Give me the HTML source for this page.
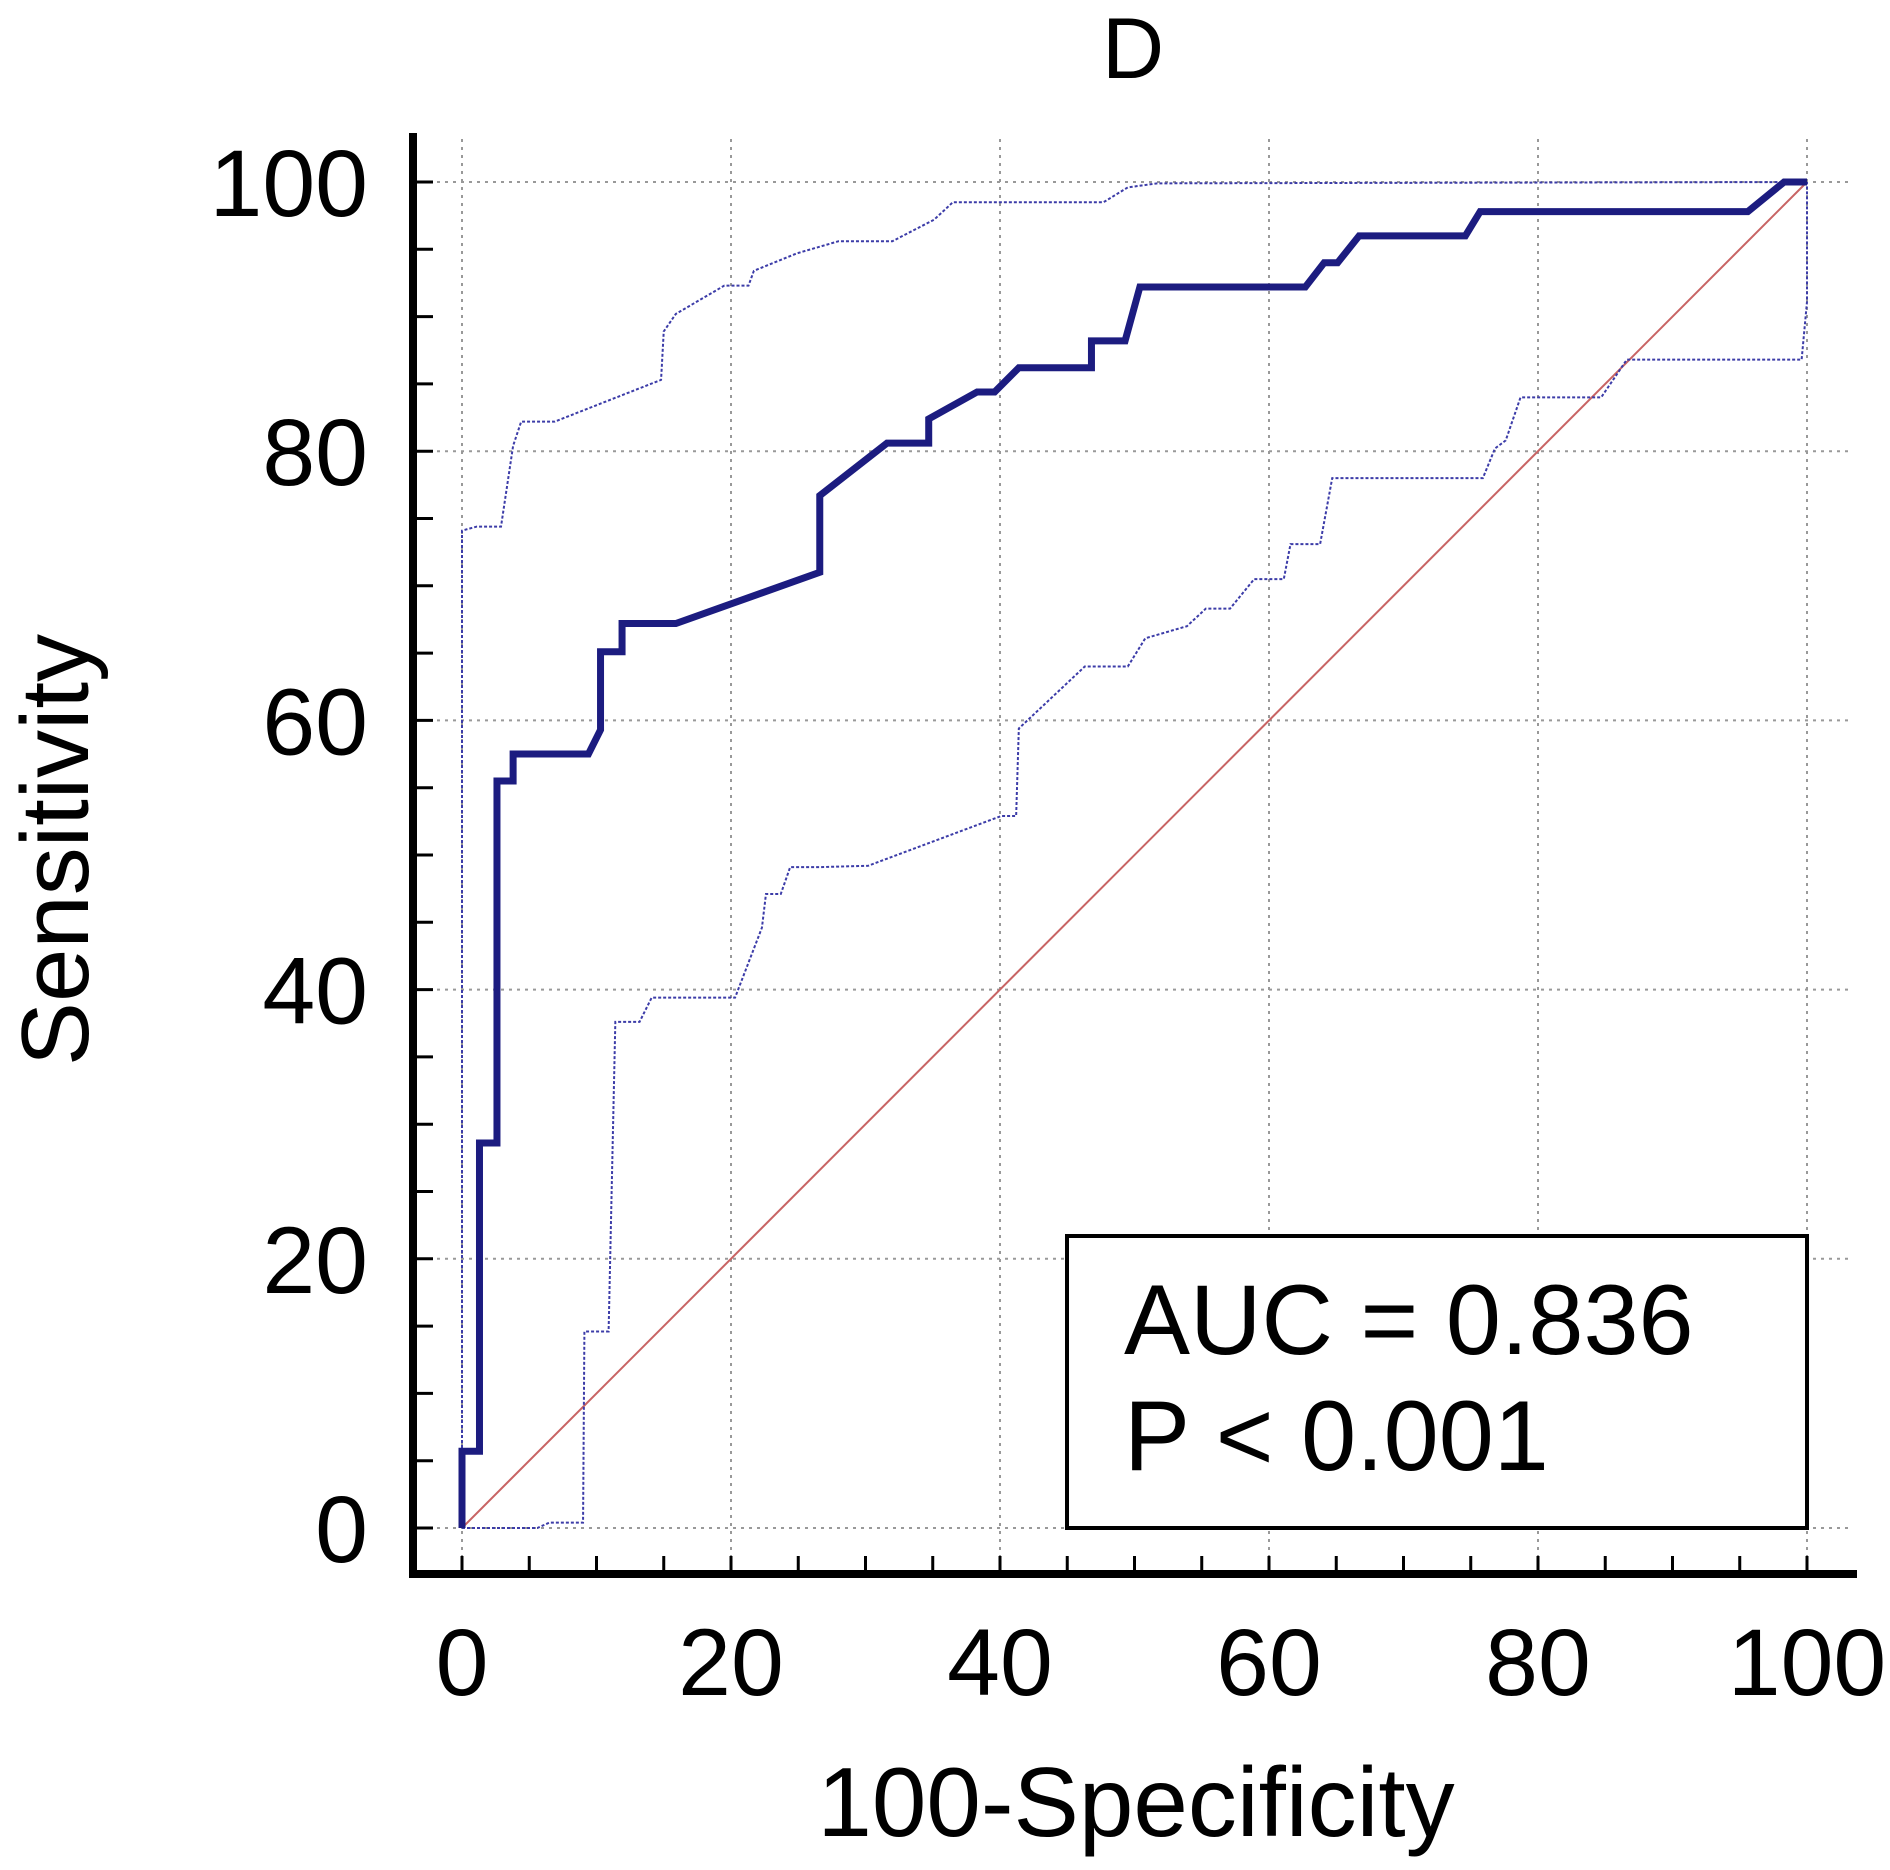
<!DOCTYPE html>
<html><head><meta charset="utf-8"><style>
html,body{margin:0;padding:0;background:#fff;}
svg text{font-family:"Liberation Sans",Arial,sans-serif;fill:#000;}
</style></head><body>
<svg id="chart" width="1890" height="1865" viewBox="0 0 1890 1865" xmlns="http://www.w3.org/2000/svg">
<text x="1133" y="78" font-size="86" text-anchor="middle">D</text>
<g id="grid"></g>
<g id="axes"></g>
<g id="series"></g>
<text x="1136" y="1836" font-size="98" text-anchor="middle">100-Specificity</text>
<text x="0" y="0" font-size="96" text-anchor="middle" transform="translate(88,850) rotate(-90)">Sensitivity</text>
<g>
<rect x="1067" y="1236" width="740" height="292" fill="#fff" stroke="#000" stroke-width="4"/>
<text x="1124" y="1354" font-size="99">AUC = 0.836</text>
<text x="1124" y="1470" font-size="99">P &lt; 0.001</text>
</g>
</svg>
<script>
const xTicks=[0,20,40,60,80,100];
const yTicks=[0,20,40,60,80,100];
const rocFpr=[0,0,1.3,1.3,2.6,2.6,3.8,3.8,9.4,10.3,10.3,11.9,11.9,15.9,26.6,26.6,31.6,34.7,34.7,38.3,39.6,41.4,46.8,46.8,49.3,50.4,62.7,64.1,65.1,66.7,74.6,75.7,95.6,98.3,100];
const rocTpr=[0,5.7,5.7,28.6,28.6,55.5,55.5,57.5,57.5,59.3,65.1,65.1,67.2,67.2,71.0,76.7,80.6,80.6,82.4,84.4,84.4,86.2,86.2,88.2,88.2,92.2,92.2,94.0,94.0,96.0,96.0,97.8,97.8,100,100];
const upperFpr=[0,0,1.1,2.9,3.8,4.4,6.9,14.8,15.0,15.9,19.5,21.3,21.7,24.9,28.0,32.0,35.1,36.5,47.7,49.5,51.7,100];
const upperTpr=[0,74.1,74.4,74.4,80.4,82.2,82.2,85.3,88.9,90.2,92.3,92.3,93.4,94.7,95.6,95.6,97.2,98.5,98.5,99.6,99.9,100];
const lowerFpr=[0,5.6,6.5,9.0,9.1,10.9,11.4,13.2,14.1,20.3,22.3,22.6,23.7,24.4,26.6,30.2,40.1,41.2,41.4,46.3,49.5,50.8,53.9,55.3,57.1,58.9,61.1,61.6,63.8,64.7,75.9,76.8,77.6,78.7,84.7,86.6,99.6,100,100];
const lowerTpr=[0,0,0.4,0.4,14.6,14.6,37.6,37.6,39.4,39.4,44.6,47.1,47.1,49.1,49.1,49.2,52.9,52.9,59.4,64.0,64.0,66.1,67.0,68.3,68.3,70.5,70.5,73.1,73.1,78.0,78.0,80.2,80.8,84.0,84.0,86.8,86.8,91.1,100];
const chanceX=[0,100];
const chanceY=[0,100];

const NS="http://www.w3.org/2000/svg";
const X0=462,X1=1807,Y0=1528,Y1=182;
const sx=v=>X0+(X1-X0)*v/100;
const sy=v=>Y0-(Y0-Y1)*v/100;
function mk(tag,attrs,parent){const e=document.createElementNS(NS,tag);for(const k in attrs)e.setAttribute(k,attrs[k]);parent.appendChild(e);return e;}
const grid=document.getElementById('grid'),axes=document.getElementById('axes'),series=document.getElementById('series');

xTicks.forEach(t=>{
  const l=mk('line',{x1:sx(t),x2:sx(t),y1:139,y2:1574,stroke:'#999','stroke-width':2,'stroke-dasharray':'3,5'},grid);
  
  
  const tx=mk('text',{x:sx(t),y:1695,'font-size':95,'text-anchor':'middle'},axes);
  tx.textContent=t;
  
  
});
yTicks.forEach(t=>{
  const l=mk('line',{x1:413,x2:1850,y1:sy(t),y2:sy(t),stroke:'#999','stroke-width':2,'stroke-dasharray':'3,5'},grid);
  
  
  const tx=mk('text',{x:368,y:sy(t)+34,'font-size':95,'text-anchor':'end'},axes);
  tx.textContent=t;
  
  
});
for(let v=0;v<=100;v+=5){
  const a=mk('line',{x1:sx(v),x2:sx(v),y1:1574,y2:1556,stroke:'#000','stroke-width':3},axes);
  
  
  const b=mk('line',{x1:413,x2:433,y1:sy(v),y2:sy(v),stroke:'#000','stroke-width':3},axes);
  
  
}
const ya=mk('line',{x1:413,x2:413,y1:133,y2:1578,stroke:'#000','stroke-width':8},axes);


const xa=mk('line',{x1:409,x2:1857,y1:1574,y2:1574,stroke:'#000','stroke-width':8},axes);



function pts(xs,ys){return xs.map((x,i)=>sx(x)+','+sy(ys[i])).join(' ');}
const ch=mk('polyline',{points:pts(chanceX,chanceY),fill:'none',stroke:'#c86464','stroke-width':2},series);


const up=mk('polyline',{points:pts(upperFpr,upperTpr),fill:'none',stroke:'#3c3ca8','stroke-width':2,'stroke-dasharray':'3,2'},series);


const lo=mk('polyline',{points:pts(lowerFpr,lowerTpr),fill:'none',stroke:'#3c3ca8','stroke-width':2,'stroke-dasharray':'3,2'},series);


const roc=mk('polyline',{points:pts(rocFpr,rocTpr),fill:'none',stroke:'#1c1c80','stroke-width':7,'stroke-linejoin':'miter'},series);


</script>
</body></html>
